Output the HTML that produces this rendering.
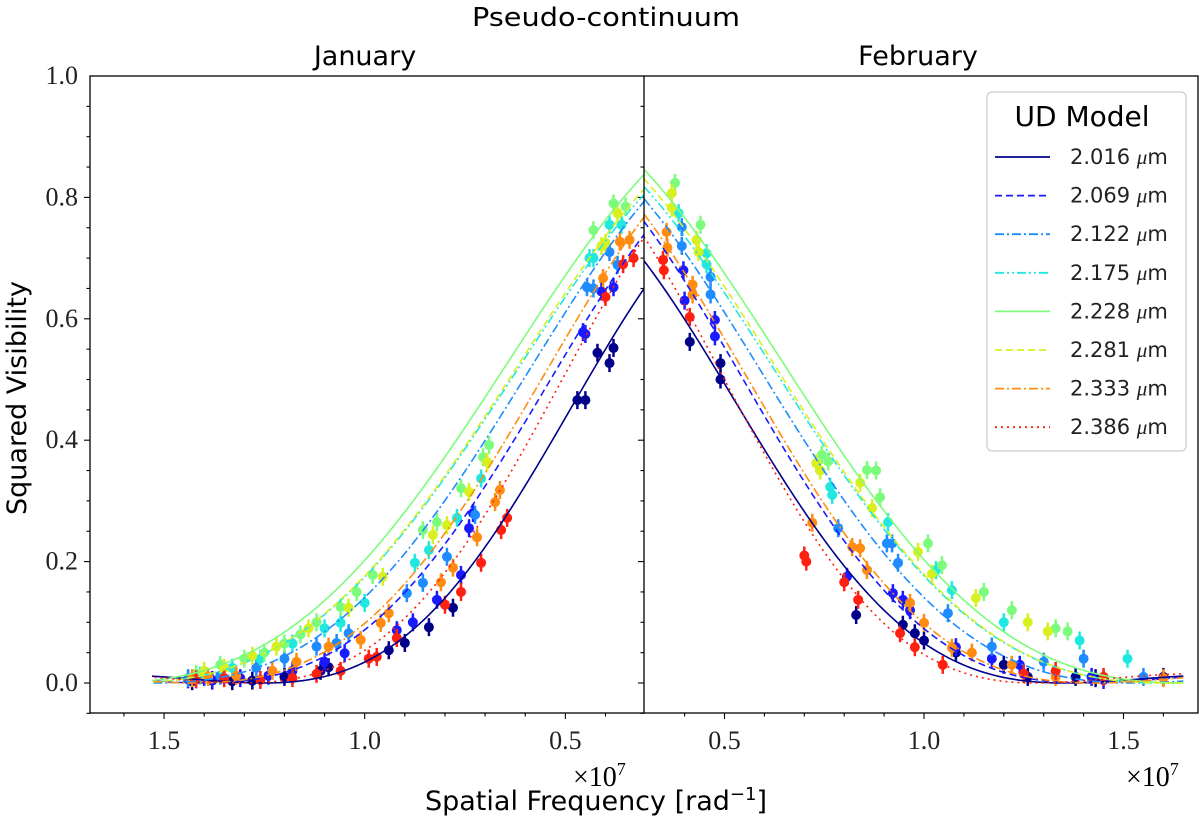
<!DOCTYPE html>
<html><head><meta charset="utf-8"><style>
body{margin:0;background:#fff;}
svg{display:block;}
.sans{font-family:"DejaVu Sans","Liberation Sans",sans-serif;}
.serif{font-family:"Liberation Serif","DejaVu Serif",serif;}
</style></head><body>
<svg id="chart" width="1200" height="826" viewBox="0 0 1200 826" xmlns="http://www.w3.org/2000/svg">
<defs>
<clipPath id="clipL"><rect x="90" y="76" width="554" height="637"/></clipPath>
<clipPath id="clipR"><rect x="644" y="76" width="554" height="637"/></clipPath>
</defs>
<text class="sans" x="606" y="26" font-size="26" text-anchor="middle" textLength="268" lengthAdjust="spacingAndGlyphs">Pseudo-continuum</text>
<text class="sans" x="365" y="65" font-size="27" text-anchor="middle">January</text>
<text class="sans" x="918" y="65" font-size="27" text-anchor="middle">February</text>
<text class="sans" transform="translate(26,398) rotate(-90)" font-size="27" text-anchor="middle">Squared Visibility</text>
<text class="sans" x="596" y="810" font-size="27" text-anchor="middle">Spatial Frequency [rad<tspan dy="-10" font-size="18">−1</tspan><tspan dy="10">]</tspan></text>
<text class="serif" x="573" y="786" font-size="28">×10<tspan dy="-11" font-size="18">7</tspan></text>
<text class="serif" x="1126" y="786" font-size="28">×10<tspan dy="-11" font-size="18">7</tspan></text>
<g id="axes"></g>
<g id="marks"></g>
<rect x="90" y="76" width="1108" height="637" fill="none" stroke="#000" stroke-width="1.3"/>
<line x1="644" y1="76" x2="644" y2="713" stroke="#000" stroke-width="1.3"/>
<g id="legend"></g>
</svg>
<script>
const wavelengths = ["2.016","2.069","2.122","2.175","2.228","2.281","2.333","2.386"];
const colors = ["#00008b","#1a1aff","#1e8cff","#20e8e0","#7cfc7c","#d8f020","#ff8c10","#ff2010"];
const dashes = ["","7,4","9,3,2,3","9,3,2,3,2,3","","7,4","9,3,2,3","2,4"];
const janDiameterMas = [20.10,17.95,16.53,15.72,15.25,15.72,17.70,19.33];
const febDiameterMas = [18.62,17.95,16.53,15.72,15.25,15.72,17.70,19.64];
const janScale = [0.81,0.88,0.92,0.92,0.95,0.93,0.91,0.90];
const febScale = [0.834,0.90,0.92,0.93,0.955,0.945,0.91,0.90];
const yTicks = [0.0,0.2,0.4,0.6,0.8,1.0];
const xTicks = [0.5,1.0,1.5];
const janData = [
 [[0.47,0.466],[0.45,0.466],[0.42,0.544],[0.39,0.527],[0.38,0.552],[0.84,0.092],[0.90,0.066],[0.94,0.054],[0.78,0.124],[1.09,0.026],[1.11,0.02],[1.2,0.01],[1.28,0.004],[1.33,0.003],[1.38,0.004],[1.43,0.003]],
 [[0.456,0.578],[0.45,0.575],[0.38,0.652],[0.41,0.645],[0.73,0.28],[0.74,0.255],[0.76,0.178],[0.82,0.137],[0.88,0.10],[0.92,0.087],[1.05,0.049],[1.10,0.035],[1.18,0.02],[1.24,0.012],[1.31,0.008],[1.38,0.005],[1.44,0.006],[1.40,0.01]],
 [[0.446,0.652],[0.43,0.65],[0.37,0.689],[0.39,0.71],[0.725,0.277],[0.795,0.208],[0.855,0.165],[0.895,0.148],[1.04,0.082],[1.07,0.066],[1.12,0.06],[1.2,0.04],[1.27,0.025],[1.36,0.012],[1.44,0.008]],
 [[0.44,0.70],[0.43,0.70],[0.39,0.755],[0.36,0.755],[0.71,0.337],[0.77,0.272],[0.84,0.219],[0.875,0.198],[1.0,0.132],[1.06,0.099],[1.10,0.09],[1.18,0.065],[1.26,0.04],[1.33,0.025],[1.41,0.012]],
 [[0.38,0.79],[0.35,0.785],[0.43,0.746],[0.69,0.392],[0.705,0.372],[0.76,0.321],[0.82,0.265],[0.855,0.252],[0.98,0.178],[1.02,0.15],[1.06,0.125],[1.12,0.10],[1.16,0.08],[1.2,0.065],[1.25,0.05],[1.3,0.04],[1.36,0.03],[1.42,0.015]],
 [[0.37,0.774],[0.40,0.725],[0.41,0.72],[0.695,0.364],[0.74,0.315],[0.795,0.26],[0.83,0.244],[0.955,0.175],[1.04,0.124],[1.14,0.09],[1.22,0.06],[1.28,0.045],[1.35,0.025],[1.40,0.02]],
 [[0.406,0.667],[0.364,0.727],[0.34,0.73],[0.663,0.318],[0.675,0.298],[0.72,0.24],[0.78,0.19],[0.81,0.166],[0.94,0.115],[0.96,0.099],[1.01,0.071],[1.09,0.06],[1.17,0.035],[1.23,0.02],[1.32,0.012],[1.39,0.01],[1.43,0.008]],
 [[0.356,0.69],[0.33,0.70],[0.40,0.636],[0.645,0.272],[0.66,0.252],[0.71,0.198],[0.76,0.15],[0.80,0.129],[0.92,0.074],[0.97,0.043],[0.99,0.04],[1.06,0.02],[1.12,0.015],[1.18,0.008],[1.26,0.005],[1.35,0.008],[1.42,0.006]]
];
const febData = [
 [[0.413,0.562],[0.49,0.527],[0.49,0.50],[0.83,0.112],[0.947,0.096],[0.977,0.082],[1.0,0.07],[1.08,0.05],[1.2,0.03],[1.26,0.01],[1.38,0.01],[1.43,0.008],[1.60,0.01]],
 [[0.397,0.68],[0.40,0.63],[0.476,0.598],[0.476,0.571],[0.807,0.175],[0.922,0.148],[0.947,0.137],[0.965,0.12],[1.08,0.059],[1.17,0.04],[1.24,0.03],[1.42,0.01],[1.45,0.005]],
 [[0.393,0.751],[0.393,0.72],[0.465,0.669],[0.465,0.64],[0.785,0.255],[0.907,0.23],[0.92,0.23],[0.935,0.198],[1.06,0.115],[1.17,0.06],[1.3,0.035],[1.4,0.04],[1.55,0.01]],
 [[0.385,0.774],[0.455,0.708],[0.455,0.69],[0.765,0.323],[0.77,0.31],[0.91,0.265],[1.03,0.186],[1.07,0.153],[1.2,0.1],[1.39,0.07],[1.51,0.04]],
 [[0.376,0.824],[0.44,0.755],[0.744,0.376],[0.76,0.365],[0.857,0.351],[0.88,0.35],[0.89,0.306],[1.01,0.23],[1.045,0.194],[1.15,0.15],[1.22,0.12],[1.33,0.09],[1.36,0.085]],
 [[0.368,0.807],[0.368,0.783],[0.43,0.73],[0.435,0.71],[0.73,0.362],[0.74,0.35],[0.84,0.33],[0.87,0.288],[0.985,0.216],[1.02,0.18],[1.13,0.14],[1.26,0.1],[1.31,0.085]],
 [[0.355,0.743],[0.357,0.717],[0.42,0.656],[0.42,0.64],[0.72,0.264],[0.82,0.224],[0.84,0.222],[0.857,0.186],[0.965,0.132],[1.0,0.099],[1.07,0.058],[1.12,0.05],[1.22,0.03],[1.33,0.01],[1.6,0.008]],
 [[0.346,0.697],[0.348,0.68],[0.413,0.603],[0.70,0.21],[0.705,0.20],[0.80,0.166],[0.835,0.137],[0.94,0.082],[0.977,0.059],[1.047,0.03],[1.25,0.015],[1.33,0.02],[1.45,0.01]]
];

const NS="http://www.w3.org/2000/svg";
const yScale = v => 683 - v*607;
const xJan = f => 766 - f*401.3;
const xFeb = f => 525 + f*399;
function mk(tag, attrs, parent){const e=document.createElementNS(NS,tag);for(const k in attrs)e.setAttribute(k,attrs[k]);parent.appendChild(e);return e;}
function j1(x){let s=0,term=x/2;for(let k=0;k<30;k++){s+=term;term*=-(x*x/4)/((k+1)*(k+2));}return s;}
function ud(f, dMas, a){const th=dMas*4.8481e-9;const x=Math.PI*th*f*1e7;if(x<1e-6)return a;const v=2*j1(x)/x;return a*v*v;}

const axes=document.getElementById('axes');
for(let i=0;i<=20;i++){const v=-0.05+i*0.05;if(v>1.0001)break;const y=yScale(v);const major=Math.abs(v*5-Math.round(v*5))<1e-6;
 for(const x0 of [90,644]){const t=mk('line',{x1:x0,x2:x0-(major?6:3.5),y1:y,y2:y,stroke:'#000','stroke-width':1.1},axes);
 
 }
}
yTicks.forEach(v=>{const t=mk('text',{x:78,y:yScale(v)+8,'font-size':26,'text-anchor':'end','class':'serif',fill:'#222'},axes);t.textContent=v.toFixed(1);
 
 });
for(let i=4;i<=16;i++){const f=i/10;const major=(i%5===0);
 const xl=xJan(f);if(xl>=90&&xl<=644){const t=mk('line',{x1:xl,x2:xl,y1:713,y2:713+(major?6:3.5),stroke:'#000','stroke-width':1.1},axes);
 
 }
 const xr=xFeb(f);if(xr>=644&&xr<=1198){const t=mk('line',{x1:xr,x2:xr,y1:713,y2:713+(major?6:3.5),stroke:'#000','stroke-width':1.1},axes);
 
 }
}
xTicks.forEach(f=>{
 const a=mk('text',{x:xJan(f),y:749,'font-size':26,'text-anchor':'middle','class':'serif',fill:'#222'},axes);a.textContent=f.toFixed(1);
 
 
 const b=mk('text',{x:xFeb(f),y:749,'font-size':26,'text-anchor':'middle','class':'serif',fill:'#222'},axes);b.textContent=f.toFixed(1);
 
 
});

const marks=document.getElementById('marks');
function panel(data, diam, scale, xs, clip, fmin, fmax, label){
 const g=mk('g',{'clip-path':'url(#'+clip+')'},marks);
 
 
 data.forEach((pts,ci)=>{pts.forEach(p=>{
  const x=xs(p[0]),y=yScale(p[1]);
  const eb=mk('line',{x1:x,x2:x,y1:y-9,y2:y+9,stroke:colors[ci],'stroke-width':2.5},g);
  
  
  const c=mk('circle',{cx:x,cy:y,r:5,fill:colors[ci]},g);
  
  
 });});
 diam.forEach((d,ci)=>{let s='';for(let i=0;i<=240;i++){const f=fmin+(fmax-fmin)*i/240;s+=(i?'L':'M')+xs(f).toFixed(2)+','+yScale(ud(f,d,scale[ci])).toFixed(2);}
  const p=mk('path',{d:s,fill:'none',stroke:colors[ci],'stroke-width':1.6,'stroke-dasharray':dashes[ci]||'none'},g);
  
  });
}
panel(janData,janDiameterMas,janScale,xJan,'clipL',0.3,1.53,'january');
panel(febData,febDiameterMas,febScale,xFeb,'clipR',0.298,1.65,'february');

const lg=document.getElementById('legend');
mk('rect',{x:987,y:92,width:199,height:359,rx:5,fill:'#fff','fill-opacity':0.9,stroke:'#ccc','stroke-width':1.2},lg);
const lt=mk('text',{x:1082,y:126,'font-size':28,'text-anchor':'middle','class':'sans'},lg);lt.textContent='UD Model';


wavelengths.forEach((w,i)=>{const y=157+i*38.6;
 const g=mk('g',{},lg);
 
 
 mk('line',{x1:995,x2:1050,y1:y,y2:y,stroke:colors[i],'stroke-width':1.8,'stroke-dasharray':dashes[i]||'none'},g);
 const t=mk('text',{x:1070,y:y+7,'font-size':21,'class':'sans',fill:'#222'},g);
 t.innerHTML=w+' <tspan font-style="italic" font-family="Liberation Serif, serif">μ</tspan>m';
});
</script>
</body></html>
